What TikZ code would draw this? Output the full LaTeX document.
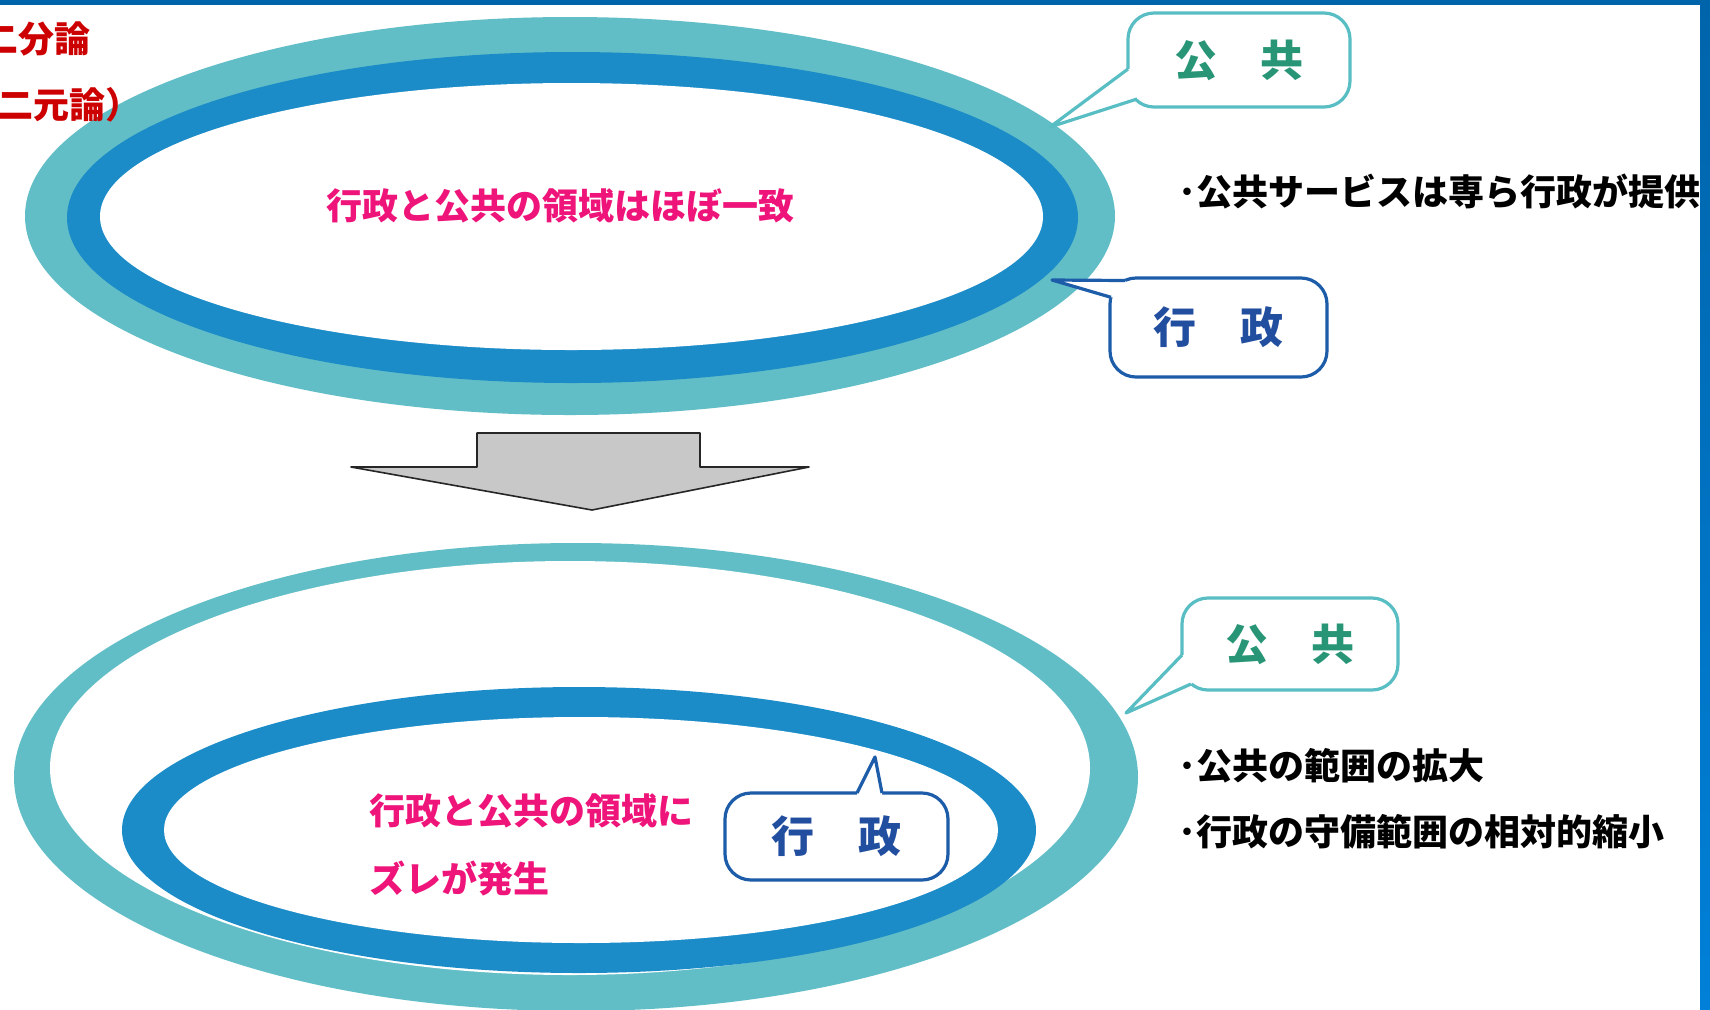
\documentclass[tikz,border=0pt]{standalone}
\usepackage{fontspec}
\setmainfont{Noto Sans CJK JP}
\usetikzlibrary{shapes.geometric}
\definecolor{tealc}{RGB}{98,190,198}
\definecolor{darkc}{RGB}{28,140,200}
\definecolor{pubc}{RGB}{88,190,196}
\definecolor{pubt}{RGB}{40,150,118}
\definecolor{admc}{RGB}{28,92,168}
\definecolor{admt}{RGB}{34,78,160}
\definecolor{redc}{RGB}{204,0,0}
\definecolor{pinkc}{RGB}{238,20,122}
\definecolor{barc}{RGB}{0,100,170}
\definecolor{barlow}{RGB}{0,128,216}
\definecolor{arrowf}{RGB}{200,200,200}
\tikzset{
  ring/.style={ellipse, inner sep=0pt, draw=none},
  callbox/.style={rectangle, rounded corners=13pt, line width=1.6pt, fill=white, inner sep=0pt,
    font=\bfseries\fontsize{21.5pt}{23pt}\selectfont},
  pubbox/.style={callbox, draw=pubc, text=pubt},
  admbox/.style={callbox, draw=admc, text=admt},
  publine/.style={draw=pubc, line width=1.6pt, line join=round},
  admline/.style={draw=admc, line width=1.6pt, line join=round},
  redtxt/.style={text=redc, inner sep=0pt, font=\bfseries\fontsize{18pt}{20pt}\selectfont},
  pinktxt/.style={text=pinkc, inner sep=0pt, font=\bfseries\fontsize{18pt}{20pt}\selectfont},
  blacktxt/.style={text=black, inner sep=0pt, font=\bfseries\fontsize{18pt}{20pt}\selectfont},
  bigarrow/.style={fill=arrowf, draw=black!85, line width=0.8pt, line join=round}
}
\begin{document}
\begin{tikzpicture}[x=0.5pt,y=-0.5pt]
\useasboundingbox (0,0) rectangle (1710,1009);
\fill[white] (0,0) rectangle (1710,1009);
% frame bars
\fill[barc] (0,0) rectangle (1710,5);
\shade[top color=barc, bottom color=barlow] (1700,0) rectangle (1710,1009);

% top rings
\node[ring, fill=tealc, minimum width=545pt, minimum height=199pt] (topPub) at (570,216) {};
\node[ring, fill=darkc, minimum width=505.5pt, minimum height=165.5pt] (topAdm) at (572.5,217.5) {};
\node[ring, fill=white, minimum width=471.5pt, minimum height=133.5pt] (topIn) at (571.5,216.5) {};

% bottom rings
\node[ring, fill=tealc, minimum width=562pt, minimum height=234pt] (botPub) at (576,777) {};
\node[ring, fill=white, minimum width=520pt, minimum height=207pt] (botPubIn) at (570,768) {};
\node[ring, fill=darkc, minimum width=457pt, minimum height=143pt] (botAdm) at (579,830) {};
\node[ring, fill=white, minimum width=417pt, minimum height=113pt] (botAdmIn) at (581,830) {};

% arrow
\filldraw[bigarrow] (477,433) -- (700,433) -- (700,467) -- (809,467) -- (592,510) -- (351,467) -- (477,467) -- cycle;

% callout: top public
\node[pubbox, minimum width=111pt, minimum height=47pt] (c1) at (1239,60) {公\hspace{22pt}共};
\coordinate (c1tip) at (1050,127);
\fill[white] (1128,69) -- (c1tip) -- (1137,99) -- (1142,95) -- (1134,69) -- cycle;
\draw[publine] (1128,69) -- (c1tip) -- (1137,99);

% callout: top administration
\node[admbox, minimum width=108.5pt, minimum height=49.5pt] (c2) at (1218.5,327.5) {行\hspace{22pt}政};
\coordinate (c2tip) at (1052,280);
\fill[white] (1125,280.5) -- (c2tip) -- (1111,297.3) -- (1117,298) -- (1128,286) -- cycle;
\draw[admline] (1125,280.5) -- (c2tip) -- (1111,297.3);

% callout: bottom public
\node[pubbox, minimum width=108pt, minimum height=46pt] (c3) at (1290,644) {公\hspace{22pt}共};
\coordinate (c3tip) at (1126,713);
\fill[white] (1182,655) -- (c3tip) -- (1191,684) -- (1196,679) -- (1188,655) -- cycle;
\draw[publine] (1182,655) -- (c3tip) -- (1191,684);

% callout: bottom administration
\node[admbox, minimum width=111.5pt, minimum height=43.5pt] (c4) at (836.5,836.5) {行\hspace{22pt}政};
\coordinate (c4tip) at (875,757);
\fill[white] (857,793) -- (c4tip) -- (882,793) -- (882,799) -- (857,799) -- cycle;
\draw[admline] (857,793) -- (c4tip) -- (882,793);

% texts
\node[redtxt, anchor=west] (r1) at (-18,39) {二分論};
\node[redtxt, anchor=west] (r2) at (-3,105) {二元論）};
\node[pinktxt] (p1) at (560,206) {行政と公共の領域はほぼ一致};
\node[pinktxt, anchor=west] (p2) at (369,811) {行政と公共の領域に};
\node[pinktxt, anchor=west] (p3) at (369,878) {ズレが発生};
\node[blacktxt, anchor=west] (b1) at (1178,192) {･公共サービスは専ら行政が提供};
\node[blacktxt, anchor=west] (b2) at (1178,766) {･公共の範囲の拡大};
\node[blacktxt, anchor=west] (b3) at (1178,832) {･行政の守備範囲の相対的縮小};
\end{tikzpicture}
\end{document}
